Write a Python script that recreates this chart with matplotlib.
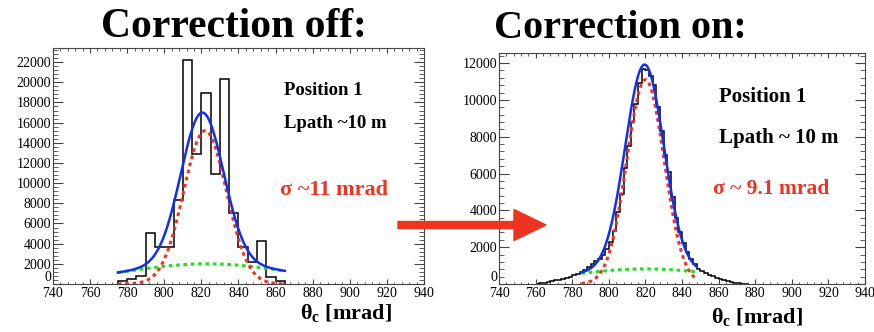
import numpy as np
import matplotlib
import matplotlib.pyplot as plt
from matplotlib.patches import FancyArrow
from matplotlib.ticker import MultipleLocator

matplotlib.use('agg')  # headless matplotlib

plt.rcParams['font.family'] = ['Liberation Serif', 'DejaVu Serif']
plt.rcParams['mathtext.fontset'] = 'custom'
plt.rcParams['mathtext.rm'] = 'Liberation Serif'
plt.rcParams['mathtext.bf'] = 'Liberation Serif:bold'

RED = '#ee3322'
BLUE = '#1030ee'
GREEN = '#22dd22'

# correction off: 5 mrad bins
LEFT_EDGES = np.arange(775, 866, 5)
LEFT_COUNTS = [270, 500, 800, 5100, 3700, 3700, 8300, 22200, 12900, 18900,
               10900, 20300, 7000, 3700, 2150, 4300, 720, 280]
# fit components: amplitude, mean, sigma
LEFT_SIGNAL = (15200, 822.0, 11.5)
LEFT_TOTAL_PEAK = (15000, 820.5, 11.5)
LEFT_BACKGROUND = (2000, 823.0, 45.0)
LEFT_FIT_RANGE = (775, 865)

# correction on: 2 mrad bins
RIGHT_EDGES = np.arange(760, 877, 2)
RIGHT_COUNTS = [20, 50, 80, 110, 150, 190, 240, 290, 340, 400,
                470, 560, 660, 780, 920, 1080, 1230, 1380, 1560, 1900,
                2300, 2900, 3900, 4900, 6300, 7500, 8800, 9800, 10900, 11700,
                11650, 11300, 10800, 9600, 8300, 7000, 6100, 4700, 3600, 2800,
                2200, 1750, 1350, 1100, 800, 680, 580, 490, 410, 340,
                280, 220, 170, 120, 80, 45, 20, 0]
RIGHT_SIGNAL = (11100, 820.0, 10.2)
RIGHT_TOTAL_PEAK = (11100, 819.5, 10.5)
RIGHT_BACKGROUND = (820, 820.0, 42.0)
RIGHT_FIT_RANGE = (785, 848)


def gauss(x, params):
    amp, mean, sigma = params
    return amp * np.exp(-0.5 * ((x - mean) / sigma) ** 2)


def draw_panel(ax, edges, counts, signal, total_peak, background, fit_range,
               ymax, texts):
    ax.stairs(counts, edges, color='black', lw=1.1, baseline=0)

    x = np.linspace(fit_range[0], fit_range[1], 300)
    ax.plot(x, gauss(x, background), color=GREEN, lw=2.2, ls=(0, (1.2, 1.2)))
    ax.plot(x, gauss(x, signal), color=RED, lw=2.2, ls=(0, (1.2, 1.2)))
    ax.plot(x, gauss(x, total_peak) + gauss(x, background), color=BLUE, lw=1.8)

    ax.set_xlim(740, 940)
    ax.set_ylim(0, ymax)
    ax.xaxis.set_major_locator(MultipleLocator(20))
    ax.xaxis.set_minor_locator(MultipleLocator(4))
    ax.yaxis.set_major_locator(MultipleLocator(2000))
    ax.yaxis.set_minor_locator(MultipleLocator(400))
    ax.tick_params(which='both', direction='in', top=True, right=True,
                   labelsize=10, color='#444444')
    ax.tick_params(axis='x', which='major', length=3.6, pad=2)
    ax.tick_params(axis='x', which='minor', length=1.8)
    ax.tick_params(axis='y', which='major', length=7, pad=1.5)
    ax.tick_params(axis='y', which='minor', length=3.5)
    for spine in ax.spines.values():
        spine.set_linewidth(0.8)
        spine.set_color('#444444')

    for (tx, ty, label, color, size) in texts:
        ax.text(tx, ty, label, transform=ax.transAxes, color=color,
                fontsize=size, fontweight='bold', va='center', ha='left')


def lift_zero_label(ax):
    # ROOT puts the "0" just above the first x label; nudge it up
    for label in ax.get_yticklabels():
        if label.get_text() == '0':
            label.set_verticalalignment('bottom')


def main():
    fig = plt.figure(figsize=(8.74, 3.32), dpi=100)

    ax_off = fig.add_axes([0.0606, 0.1446, 0.4245, 0.7108])
    ax_on = fig.add_axes([0.571, 0.1446, 0.4188, 0.6958])

    draw_panel(ax_off, LEFT_EDGES, LEFT_COUNTS, LEFT_SIGNAL, LEFT_TOTAL_PEAK,
               LEFT_BACKGROUND, LEFT_FIT_RANGE, 23400,
               [(0.624, 0.82, 'Position 1', 'black', 13.5),
                (0.624, 0.68, 'Lpath ~10 m', 'black', 13.5),
                (0.613, 0.40, 'σ ~11 mrad', RED, 16)])
    draw_panel(ax_on, RIGHT_EDGES, RIGHT_COUNTS, RIGHT_SIGNAL, RIGHT_TOTAL_PEAK,
               RIGHT_BACKGROUND, RIGHT_FIT_RANGE, 12550,
               [(0.60, 0.81, 'Position 1', 'black', 15),
                (0.60, 0.63, 'Lpath ~ 10 m', 'black', 15),
                (0.585, 0.41, 'σ ~ 9.1 mrad', RED, 15.5)])

    fig.text(0.268, 0.918, 'Correction off:', fontsize=30, fontweight='bold',
             ha='center', va='center')
    fig.text(0.71, 0.915, 'Correction on:', fontsize=29, fontweight='bold',
             ha='center', va='center')
    fig.text(0.396, 0.054, r'θ$_\mathbf{c}$ [mrad]', fontsize=16,
             fontweight='bold', ha='center', va='center')
    fig.text(0.866, 0.042, r'θ$_\mathbf{c}$ [mrad]', fontsize=16,
             fontweight='bold', ha='center', va='center')

    arrow = FancyArrow(3.98, 1.07, 1.48, 0, width=0.07, head_width=0.31,
                       head_length=0.32, length_includes_head=True,
                       color=RED, transform=fig.dpi_scale_trans)
    fig.patches.append(arrow)

    fig.canvas.draw()
    lift_zero_label(ax_off)
    lift_zero_label(ax_on)

    fig.savefig('out.png', dpi=100)
    plt.close(fig)


if __name__ == '__main__':
    main()
